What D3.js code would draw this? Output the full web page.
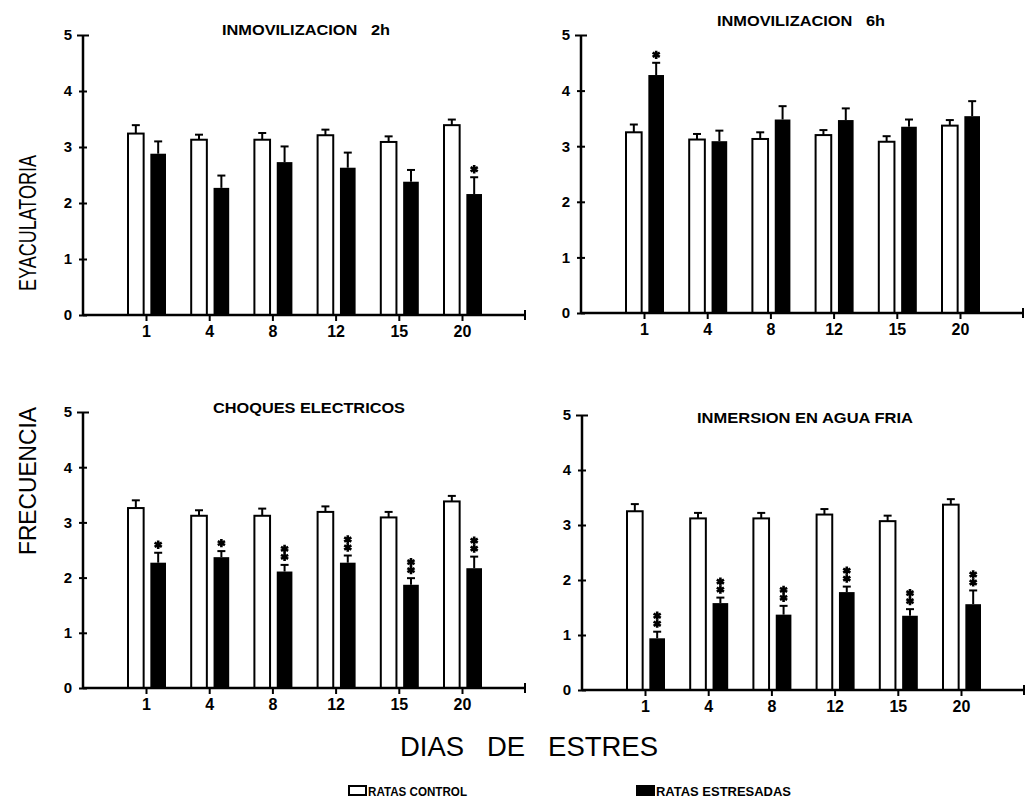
<!DOCTYPE html>
<html>
<head>
<meta charset="utf-8">
<script src="https://cdn.jsdelivr.net/npm/d3@7"></script>
<style>
  body { margin: 0; background: #fff; }
  svg { display: block; }
</style>
</head>
<body>
<div id="chart"></div>
<script>
// dias de estres (eje x)
var days = ['1', '4', '8', '12', '15', '20'];
var yTicks = [0, 1, 2, 3, 4, 5];
var titles = ['INMOVILIZACION   2h', 'INMOVILIZACION   6h', 'CHOQUES ELECTRICOS', 'INMERSION EN AGUA FRIA'];

// ratas control (media y error estandar)
var control2h = [3.24, 3.13, 3.13, 3.21, 3.09, 3.39],
    controlErr2h = [0.15, 0.09, 0.12, 0.10, 0.10, 0.10];
var control6h = [3.25, 3.12, 3.13, 3.20, 3.08, 3.37],
    controlErr6h = [0.14, 0.10, 0.12, 0.09, 0.10, 0.10];
var controlChoq = [3.26, 3.12, 3.12, 3.19, 3.09, 3.38],
    controlErrChoq = [0.14, 0.10, 0.13, 0.10, 0.10, 0.10];
var controlAgua = [3.25, 3.12, 3.12, 3.19, 3.07, 3.37],
    controlErrAgua = [0.13, 0.10, 0.10, 0.10, 0.10, 0.10];

// ratas estresadas
var stress2h = [2.88, 2.27, 2.73, 2.63, 2.38, 2.16],
    stressErr2h = [0.22, 0.22, 0.28, 0.27, 0.21, 0.30],
    stars2h = [0, 0, 0, 0, 0, 1];
var stress6h = [4.28, 3.09, 3.48, 3.47, 3.35, 3.54],
    stressErr6h = [0.22, 0.19, 0.24, 0.21, 0.13, 0.27],
    stars6h = [1, 0, 0, 0, 0, 0];
var stressChoq = [2.27, 2.37, 2.11, 2.27, 1.87, 2.17],
    stressErrChoq = [0.18, 0.11, 0.12, 0.13, 0.12, 0.21],
    starsChoq = [1, 1, 2, 2, 2, 2];
var stressAgua = [0.94, 1.58, 1.37, 1.78, 1.35, 1.56],
    stressErrAgua = [0.12, 0.10, 0.16, 0.10, 0.12, 0.25],
    starsAgua = [2, 2, 2, 2, 2, 2];

var width = 1026,
    height = 803,
    plotW = 442,
    font = 'Liberation Sans, Arial, Helvetica, sans-serif';

var panels = [
    { title: titles[0], ctrl: control2h, ctrlErr: controlErr2h, str: stress2h, strErr: stressErr2h, stars: stars2h,
      left: 83, top: 35, bottom: 315, tx: 306, ty: 35, tw: 168 },
    { title: titles[1], ctrl: control6h, ctrlErr: controlErr6h, str: stress6h, strErr: stressErr6h, stars: stars6h,
      left: 581, top: 35, bottom: 313, tx: 801, ty: 26, tw: 168 },
    { title: titles[2], ctrl: controlChoq, ctrlErr: controlErrChoq, str: stressChoq, strErr: stressErrChoq, stars: starsChoq,
      left: 83, top: 412, bottom: 688, tx: 309, ty: 413, tw: 192 },
    { title: titles[3], ctrl: controlAgua, ctrlErr: controlErrAgua, str: stressAgua, strErr: stressErrAgua, stars: starsAgua,
      left: 582, top: 415, bottom: 690, tx: 805, ty: 423, tw: 216 }
];

var svg = d3.select('#chart').append('svg')
    .attr('width', width)
    .attr('height', height)
    .style('font-family', font);

svg.append('rect').attr('width', width).attr('height', height).attr('fill', '#fff');

var star = d3.symbol().type(d3.symbolAsterisk).size(48);

panels.forEach(function (p) {
    var g = svg.append('g').attr('transform', 'translate(' + p.left + ',0)');

    var y = d3.scaleLinear().domain([0, 5]).range([p.bottom, p.top]);
    var x = d3.scalePoint().domain(days).range([63, 379]);
    var sub = d3.scaleBand().domain(['control', 'stress']).range([-18, 20]).paddingInner(0.3);
    var bw = sub.bandwidth();

    var rows = days.map(function (d, i) {
        return { day: d, ctrl: p.ctrl[i], ctrlErr: p.ctrlErr[i], str: p.str[i], strErr: p.strErr[i], stars: p.stars[i] };
    });

    // barras control (blancas)
    g.selectAll('.ctrl').data(rows).enter().append('rect')
        .attr('class', 'ctrl')
        .attr('x', function (d) { return x(d.day) + sub('control'); })
        .attr('y', function (d) { return y(d.ctrl); })
        .attr('width', bw)
        .attr('height', function (d) { return y(0) - y(d.ctrl); })
        .attr('fill', '#fff')
        .attr('stroke', '#000')
        .attr('stroke-width', 2);

    // barras estresadas (negras)
    g.selectAll('.str').data(rows).enter().append('rect')
        .attr('class', 'str')
        .attr('x', function (d) { return x(d.day) + sub('stress'); })
        .attr('y', function (d) { return y(d.str); })
        .attr('width', bw)
        .attr('height', function (d) { return y(0) - y(d.str); })
        .attr('fill', '#000');

    // error (solo la mitad superior)
    function errBar(cls, key, errKey, series) {
        var eg = g.selectAll('.' + cls).data(rows).enter().append('g')
            .attr('class', cls)
            .attr('transform', function (d) { return 'translate(' + (x(d.day) + sub(series) + bw / 2) + ',0)'; });
        eg.append('line')
            .attr('y1', function (d) { return y(d[key]); })
            .attr('y2', function (d) { return y(d[key] + d[errKey]); })
            .attr('stroke', '#000').attr('stroke-width', 2);
        eg.append('line')
            .attr('x1', -4).attr('x2', 4)
            .attr('y1', function (d) { return y(d[key] + d[errKey]); })
            .attr('y2', function (d) { return y(d[key] + d[errKey]); })
            .attr('stroke', '#000').attr('stroke-width', 2);
        return eg;
    }
    errBar('ctrlErr', 'ctrl', 'ctrlErr', 'control');
    var se = errBar('strErr', 'str', 'strErr', 'stress');

    // significancia
    se.each(function (d) {
        for (var k = 0; k < d.stars; k++) {
            d3.select(this).append('path')
                .attr('d', star)
                .attr('transform', 'translate(0,' + (y(d.str + d.strErr) - 8 - k * 8) + ')')
                .attr('stroke', '#000')
                .attr('stroke-width', 2.6)
                .attr('fill', '#000');
        }
    });

    // eje y
    var ya = g.append('g').call(d3.axisLeft(y).tickValues(yTicks).tickFormat(d3.format('d'))
        .tickSize(4).tickSizeOuter(0).tickPadding(7));
    ya.select('.domain').remove();
    ya.selectAll('.tick line')
        .attr('x1', function (d) { return d === 5 ? 6 : 4; })
        .attr('x2', function (d) { return d === 5 ? -6 : -4; })
        .attr('stroke-width', 2);
    ya.selectAll('.tick text')
        .attr('font-family', font)
        .attr('font-size', 15)
        .attr('font-weight', 'bold')
        .attr('fill', '#000');
    g.append('line')
        .attr('x1', 0).attr('x2', 0)
        .attr('y1', y(0)).attr('y2', y(5))
        .attr('stroke', '#000').attr('stroke-width', 2.5);

    // eje x
    var xa = g.append('g')
        .attr('transform', 'translate(0,' + y(0) + ')')
        .call(d3.axisBottom(x).tickSize(6).tickSizeOuter(0).tickPadding(5));
    xa.select('.domain').remove();
    xa.selectAll('.tick line').attr('stroke-width', 2);
    xa.selectAll('.tick text')
        .attr('font-family', font)
        .attr('font-size', 16)
        .attr('font-weight', 'bold')
        .attr('fill', '#000');
    g.append('line')
        .attr('x1', 0).attr('x2', plotW)
        .attr('y1', y(0)).attr('y2', y(0))
        .attr('stroke', '#000').attr('stroke-width', 2.5);
    g.append('line')
        .attr('x1', plotW).attr('x2', plotW)
        .attr('y1', y(0) - 5).attr('y2', y(0) + 5)
        .attr('stroke', '#000').attr('stroke-width', 2);

    // titulo
    svg.append('text')
        .text(p.title)
        .attr('x', p.tx)
        .attr('y', p.ty)
        .attr('text-anchor', 'middle')
        .attr('font-size', 14)
        .attr('font-weight', 'bold')
        .attr('textLength', p.tw)
        .attr('lengthAdjust', 'spacingAndGlyphs')
        .style('white-space', 'pre');
});

// etiquetas de ejes
svg.append('text')
    .text('EYACULATORIA')
    .attr('transform', 'translate(36,223) rotate(-90)')
    .attr('text-anchor', 'middle')
    .attr('font-size', 24)
    .attr('textLength', 136)
    .attr('lengthAdjust', 'spacingAndGlyphs');

svg.append('text')
    .text('FRECUENCIA')
    .attr('transform', 'translate(36,481) rotate(-90)')
    .attr('text-anchor', 'middle')
    .attr('font-size', 24)
    .attr('textLength', 148)
    .attr('lengthAdjust', 'spacingAndGlyphs');

svg.append('text')
    .text('DIAS   DE   ESTRES')
    .attr('x', 529)
    .attr('y', 756)
    .attr('text-anchor', 'middle')
    .attr('font-size', 27)
    .attr('textLength', 258)
    .attr('lengthAdjust', 'spacingAndGlyphs')
    .style('white-space', 'pre');

// leyenda
var legendItems = [
    { label: 'RATAS CONTROL', fill: '#fff', x: 349, w: 118 },
    { label: 'RATAS ESTRESADAS', fill: '#000', x: 637, w: 154 }
];
var legend = svg.append('g').attr('class', 'legend');
legendItems.forEach(function (it) {
    legend.append('rect')
        .attr('x', it.x).attr('y', 786)
        .attr('width', 17).attr('height', 9)
        .attr('fill', it.fill)
        .attr('stroke', '#000').attr('stroke-width', 2);
    legend.append('text')
        .text(it.label)
        .attr('x', it.x + 19).attr('y', 796)
        .attr('font-size', 13)
        .attr('font-weight', 'bold')
        .attr('textLength', it.w - 19)
        .attr('lengthAdjust', 'spacingAndGlyphs');
});
</script>
</body>
</html>
